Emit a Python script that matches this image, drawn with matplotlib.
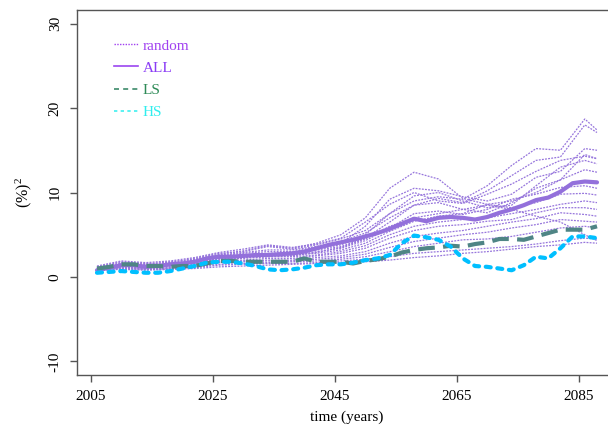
import matplotlib
matplotlib.use("Agg")
import matplotlib.pyplot as plt
from matplotlib.lines import Line2D

plt.rcParams['font.family'] = ['Liberation Serif', 'DejaVu Serif']
plt.rcParams['mathtext.fontset'] = 'custom'
plt.rcParams['mathtext.rm'] = 'Liberation Serif'
plt.rcParams['mathtext.it'] = 'Liberation Serif:italic'

# ---- data ----
years_main = list(range(2006, 2089, 2))
all_vals = [0.8, 1.1, 1.4, 1.4, 1.2, 1.3, 1.5, 1.6, 1.8, 2.2, 2.4, 2.4, 2.5, 2.6, 2.6, 2.7, 2.8, 3.0,
            3.4, 3.8, 4.1, 4.4, 4.8, 5.2, 5.7, 6.3, 6.9, 6.6, 7.0, 7.1, 7.0, 6.8, 7.1, 7.6, 8.0, 8.5,
            9.1, 9.4, 10.1, 11.1, 11.3, 11.2]
ls_vals = [1.0, 1.2, 1.5, 1.5, 1.3, 1.3, 1.2, 1.3, 1.3, 1.6, 1.9, 1.9, 1.8, 1.8, 1.8, 1.8, 1.8, 2.2,
           1.8, 1.8, 1.8, 1.6, 1.9, 2.1, 2.4, 2.9, 3.2, 3.4, 3.5, 3.7, 3.6, 3.9, 4.1, 4.5, 4.5, 4.4,
           4.8, 5.2, 5.6, 5.6, 5.6, 6.0]
hs_vals = [0.5, 0.6, 0.7, 0.6, 0.5, 0.5, 0.7, 1.0, 1.3, 1.7, 1.8, 1.8, 1.6, 1.3, 0.9, 0.8, 0.9, 1.1,
           1.4, 1.5, 1.5, 1.7, 2.0, 2.2, 2.6, 4.0, 4.9, 4.7, 4.4, 3.6, 2.2, 1.3, 1.2, 1.0, 0.8, 1.4,
           2.4, 2.2, 3.4, 4.8, 4.8, 4.6]

years_rand = [2006, 2010, 2014, 2018, 2022, 2026, 2030, 2034, 2038, 2042, 2046, 2050, 2054, 2058,
              2062, 2066, 2070, 2074, 2078, 2082, 2086, 2088]
r1 = [1.2, 1.8, 1.6, 1.7, 2.2, 2.8, 3.0, 3.6, 3.3, 3.8, 4.5, 5.5, 7.5, 9.0, 9.5, 9.2, 10.8, 13.2, 15.2, 15.0, 18.7, 17.4]
r2 = [1.0, 1.6, 1.5, 1.8, 2.1, 2.6, 2.9, 3.2, 3.2, 3.6, 4.2, 5.2, 7.0, 8.5, 9.3, 8.8, 10.2, 12.0, 13.8, 14.2, 18.0, 17.1]
r3 = [1.1, 1.5, 1.4, 1.5, 2.0, 2.7, 3.1, 3.7, 3.4, 4.0, 5.0, 7.0, 10.5, 12.4, 11.6, 9.3, 8.6, 9.0, 10.0, 11.5, 14.5, 14.0]
r4 = [1.0, 1.7, 1.5, 1.6, 2.0, 2.5, 2.8, 3.0, 3.0, 3.5, 4.0, 6.0, 9.2, 10.5, 10.2, 9.5, 9.0, 9.8, 11.8, 12.5, 15.2, 15.0]
r5 = [0.9, 1.4, 1.3, 1.4, 1.8, 2.3, 2.6, 2.8, 2.9, 3.3, 3.8, 5.0, 7.5, 9.6, 10.0, 9.0, 8.2, 8.5, 10.8, 13.0, 13.8, 13.4]
r6 = [1.2, 1.3, 1.2, 1.3, 1.7, 2.2, 2.4, 2.6, 2.7, 3.2, 3.6, 4.6, 6.5, 8.5, 8.8, 8.0, 7.6, 8.8, 10.5, 11.5, 12.7, 12.4]
r7 = [0.8, 1.2, 1.1, 1.2, 1.6, 2.0, 2.3, 2.5, 2.5, 3.0, 3.4, 4.3, 5.8, 7.5, 7.8, 7.4, 8.0, 9.2, 9.8, 10.6, 10.8, 10.5]
r8 = [1.0, 1.4, 1.2, 1.3, 1.8, 2.4, 2.5, 2.7, 2.6, 2.8, 3.2, 4.0, 5.4, 6.6, 7.2, 7.5, 8.6, 8.2, 8.8, 9.8, 9.9, 9.7]
r9 = [1.1, 1.5, 1.3, 1.5, 1.9, 2.2, 2.3, 2.4, 2.4, 2.6, 3.0, 3.7, 5.0, 6.0, 6.5, 6.8, 7.0, 7.5, 8.0, 8.6, 9.0, 8.8]
r10 = [0.9, 1.2, 1.0, 1.1, 1.5, 1.9, 2.0, 2.2, 2.2, 2.5, 2.8, 3.4, 4.6, 5.5, 6.0, 6.2, 6.6, 6.8, 7.6, 8.2, 8.2, 8.0]
r11 = [0.8, 1.1, 1.0, 1.1, 1.4, 1.8, 1.9, 2.0, 2.0, 2.3, 2.5, 3.0, 4.0, 4.8, 5.2, 5.5, 6.0, 6.5, 6.9, 7.6, 7.4, 7.2]
r12 = [0.7, 1.0, 0.9, 1.0, 1.3, 1.7, 1.8, 1.9, 1.9, 2.1, 2.3, 2.7, 3.5, 4.2, 4.6, 5.0, 5.3, 5.8, 6.2, 6.8, 6.6, 6.5]
r13 = [0.8, 1.1, 0.9, 1.0, 1.2, 1.5, 1.6, 1.7, 1.8, 1.9, 2.1, 2.4, 3.0, 3.6, 4.0, 4.4, 4.5, 4.8, 5.3, 5.8, 6.0, 5.8]
r14 = [0.9, 1.0, 0.9, 0.9, 1.1, 1.4, 1.5, 1.6, 1.6, 1.7, 1.9, 2.1, 2.4, 2.8, 3.0, 3.2, 3.4, 3.6, 3.9, 4.3, 4.6, 4.5]
r15 = [0.8, 0.9, 0.8, 0.9, 1.0, 1.2, 1.3, 1.4, 1.5, 1.6, 1.7, 1.8, 2.0, 2.3, 2.5, 2.8, 3.0, 3.3, 3.6, 3.8, 4.1, 4.0]
r16 = [1.0, 1.3, 1.2, 1.4, 1.7, 2.1, 2.2, 2.4, 2.5, 2.9, 3.5, 4.5, 6.0, 7.0, 7.5, 8.0, 8.5, 8.0, 7.2, 6.5, 5.0, 4.3]
r17 = [1.3, 1.9, 1.7, 1.9, 2.3, 2.9, 3.3, 3.8, 3.5, 3.9, 4.6, 6.5, 8.6, 10.0, 9.0, 8.7, 9.8, 11.0, 12.5, 13.8, 14.3, 14.0]
random_runs = [r1, r2, r3, r4, r5, r6, r7, r8, r9, r10, r11, r12, r13, r14, r15, r16, r17]

xticks = [2005, 2025, 2045, 2065, 2085]
yticks = [-10, 0, 10, 20, 30]
legend_labels = ["random", "ALL", "LS", "HS"]

# ---- figure ----
W, H = 608, 426
fig = plt.figure(figsize=(W / 100, H / 100), dpi=100)
left, right, top, bottom = 77, 617, 10, 375
ax = fig.add_axes([left / W, (H - bottom) / H, (right - left) / W, (bottom - top) / H])

c_rand = '#9675DC'
for run in random_runs:
    ax.plot(years_rand, run, color=c_rand, lw=0.9, ls=(0, (1.5, 1.0)))
ax.plot(years_main, all_vals, color='#9370DB', lw=3.0, solid_capstyle='round')
ax.plot(years_main, ls_vals, color='#4F8585', lw=3.0, ls=(0, (4, 2)))
ax.plot(years_main, hs_vals, color='#00BFFF', lw=3.0, ls=(0, (1.2, 1.6)), dash_capstyle='round')

ax.set_xlim(2002.72, 2091.28)
ax.set_ylim(-11.6, 31.6)
ax.set_xticks(xticks)
ax.set_xticklabels([str(t) for t in xticks])
ax.set_yticks(yticks)
ax.set_yticklabels([str(t) for t in yticks], rotation=90, va='center')

for s in ax.spines.values():
    s.set_color('#555555')
    s.set_linewidth(1.0)
ax.tick_params(axis='both', colors='#555555', labelcolor='black', labelsize=11, length=5, width=1)
ax.tick_params(axis='x', pad=6)
ax.tick_params(axis='y', pad=6)

ax.set_xlabel('time (years)', fontsize=11)
ax.xaxis.set_label_coords(0.5, -(411 - bottom) / (bottom - top), transform=ax.transAxes)
ax.set_ylabel('(%)$^{2}$', fontsize=11.5)
ax.yaxis.set_label_coords(-(left - 34) / (right - left), 0.5)

handles = [
    Line2D([], [], color='#A040F0', lw=1.0, ls=(0, (1, 1))),
    Line2D([], [], color='#9B45F0', lw=1.2),
    Line2D([], [], color='#3C8A6A', lw=1.2, ls=(0, (3, 2.5))),
    Line2D([], [], color='#40F0F0', lw=1.2, ls=(0, (2, 2))),
]
leg = ax.legend(handles, legend_labels, loc='upper left',
                bbox_to_anchor=((114 - left) / (right - left), (bottom - 39) / (bottom - top)),
                frameon=False, fontsize=11, handlelength=1.6, handletextpad=0.3,
                labelspacing=0.55, borderpad=0, borderaxespad=0)
for txt, col in zip(leg.get_texts(), ['#A040F0', '#8A3CF5', '#2E8B57', '#30EEEE']):
    txt.set_color(col)

fig.savefig('out.png', dpi=100)
